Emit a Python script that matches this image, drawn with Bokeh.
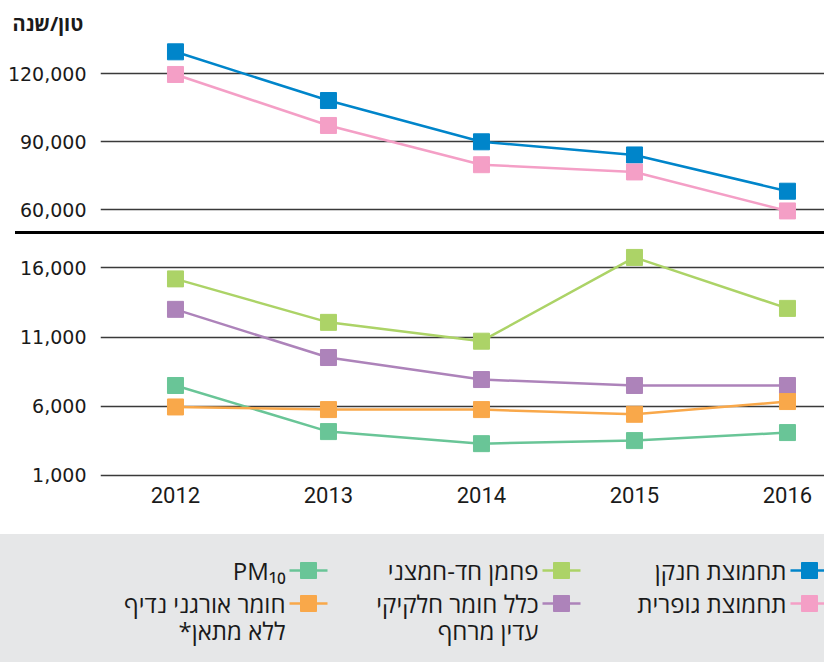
from bokeh.plotting import figure
from bokeh.layouts import column
from bokeh.models import Range1d, FixedTicker, NumeralTickFormatter, ColumnDataSource, Title, Div
from bokeh.core.properties import value
from bokeh.embed import file_html
from bokeh.resources import INLINE

# ---------------- data ----------------
years = [2012, 2013, 2014, 2015, 2016]
nox = [129700, 108200, 90000, 84200, 68200]        # תחמוצת חנקן
sox = [119700, 97200, 79900, 76700, 59500]         # תחמוצת גופרית
co = [15200, 12060, 10700, 16750, 13070]           # פחמן חד-חמצני
tsp = [13000, 9520, 7930, 7500, 7500]              # כלל חומר חלקיקי עדין מרחף
pm10 = [7500, 4170, 3300, 3520, 4100]              # PM10
nmvoc = [5950, 5760, 5760, 5420, 6340]             # חומר אורגני נדיף ללא מתאן

top_ticks = [60000, 90000, 120000]
bottom_ticks = [1000, 6000, 11000, 16000]

unit_label = "טון/שנה"
names = ["תחמוצת חנקן", "תחמוצת גופרית", "פחמן חד-חמצני",
         "כלל חומר חלקיקי\nעדין מרחף", "PM₁₀", "חומר אורגני נדיף\nללא מתאן*\u200f"]
colors = ["#0085ca", "#f49fc6", "#acd367", "#ad83ba", "#69c597", "#f9a84a"]

NUM_FONT = "DejaVu Sans"
YEAR_FONT = "Roboto"
HEB = "Open Sans"
GRID = "#3a3a3a"
TXT = "#1a1a1a"

x_range = Range1d(2011.51, 2016.242)


def style(p, ticks):
    p.toolbar.logo = None
    p.outline_line_color = None
    p.xgrid.grid_line_color = None
    p.ygrid.grid_line_color = GRID
    p.ygrid.grid_line_width = 1.5
    p.yaxis.ticker = FixedTicker(ticks=ticks)
    p.yaxis.formatter = NumeralTickFormatter(format="0,0")
    p.yaxis.axis_line_color = None
    p.yaxis.major_tick_line_color = None
    p.yaxis.minor_tick_line_color = None
    p.yaxis.major_tick_out = 0
    p.yaxis.minor_tick_out = 0
    p.yaxis.major_label_text_font = NUM_FONT
    p.yaxis.major_label_text_font_size = "19px"
    p.yaxis.major_label_text_color = TXT
    p.yaxis.major_label_standoff = 14


# ---------------- top panel ----------------
top = figure(width=824, height=231, frame_width=724, frame_height=195,
             x_range=x_range, y_range=Range1d(50426, 136456),
             output_backend="svg", toolbar_location=None,
             min_border_left=100, min_border_right=0, min_border_top=36,
             min_border_bottom=0, x_axis_location=None)
style(top, top_ticks)
t = Title(text=unit_label, text_font=HEB, text_font_size="20px",
          text_font_style="bold", text_color=TXT, align="left",
          offset=-88, standoff=0)
top.add_layout(t, "above")

for ys, c in [(nox, colors[0]), (sox, colors[1])]:
    src = ColumnDataSource(dict(x=years, y=ys))
    top.line("x", "y", source=src, line_color=c, line_width=2.5)
    top.scatter("x", "y", source=src, marker="square", size=16,
                fill_color=c, line_color=c)

# ---------------- separator (axis break) ----------------
sep = Div(text="", width=809, height=3, margin=(0, 0, 0, 15),
          styles={"background-color": "#000000"})

# ---------------- bottom panel ----------------
bot = figure(width=824, height=300, frame_width=724, frame_height=247,
             x_range=x_range, y_range=Range1d(566, 18406),
             output_backend="svg", toolbar_location=None,
             min_border_left=100, min_border_right=0, min_border_top=0,
             min_border_bottom=53)
style(bot, bottom_ticks)
bot.xaxis.ticker = FixedTicker(ticks=years)
bot.xaxis.axis_line_color = None
bot.xaxis.major_tick_line_color = None
bot.xaxis.minor_tick_line_color = None
bot.xaxis.major_tick_out = 0
bot.xaxis.minor_tick_out = 0
bot.xaxis.major_label_text_font = YEAR_FONT
bot.xaxis.major_label_text_font_size = "22px"
bot.xaxis.major_label_text_color = TXT
bot.xaxis.major_label_standoff = 5

for ys, c in [(co, colors[2]), (tsp, colors[3]), (pm10, colors[4]), (nmvoc, colors[5])]:
    src = ColumnDataSource(dict(x=years, y=ys))
    bot.line("x", "y", source=src, line_color=c, line_width=2.5)
    bot.scatter("x", "y", source=src, marker="square", size=16,
                fill_color=c, line_color=c)

# ---------------- legend box ----------------
LEG_BG = "#e6e7e8"
leg = figure(width=824, height=128, frame_width=724, frame_height=128,
             x_range=Range1d(100, 824), y_range=Range1d(128, 0),
             output_backend="svg", toolbar_location=None,
             min_border_left=100, min_border_right=0, min_border_top=0,
             min_border_bottom=0, x_axis_location=None, y_axis_location=None,
             background_fill_color=LEG_BG, border_fill_color=LEG_BG,
             outline_line_color=None, styles={"background-color": LEG_BG})
leg.xgrid.grid_line_color = None
leg.ygrid.grid_line_color = None

col_x = [809, 561, 308]
row_y = [36, 69]
line_gap = 27
for i, (name, c) in enumerate(zip(names, colors)):
    mx = col_x[i // 2]
    my = row_y[i % 2]
    leg.segment(x0=[mx - 19], y0=[my], x1=[mx + 19], y1=[my],
                line_color=c, line_width=2.5)
    leg.scatter(x=[mx], y=[my], marker="square", size=16,
                fill_color=c, line_color=c)
    lines = name.split("\n")
    leg.text(x=[mx - 23] * len(lines),
             y=[my + k * line_gap for k in range(len(lines))],
             text=lines, text_align="right", text_baseline="middle",
             text_font=value(HEB), text_font_size="24px", text_color=TXT)

layout = column(top, sep, bot, leg, spacing=0)

open("out.html", "w").write(file_html(layout, INLINE))
